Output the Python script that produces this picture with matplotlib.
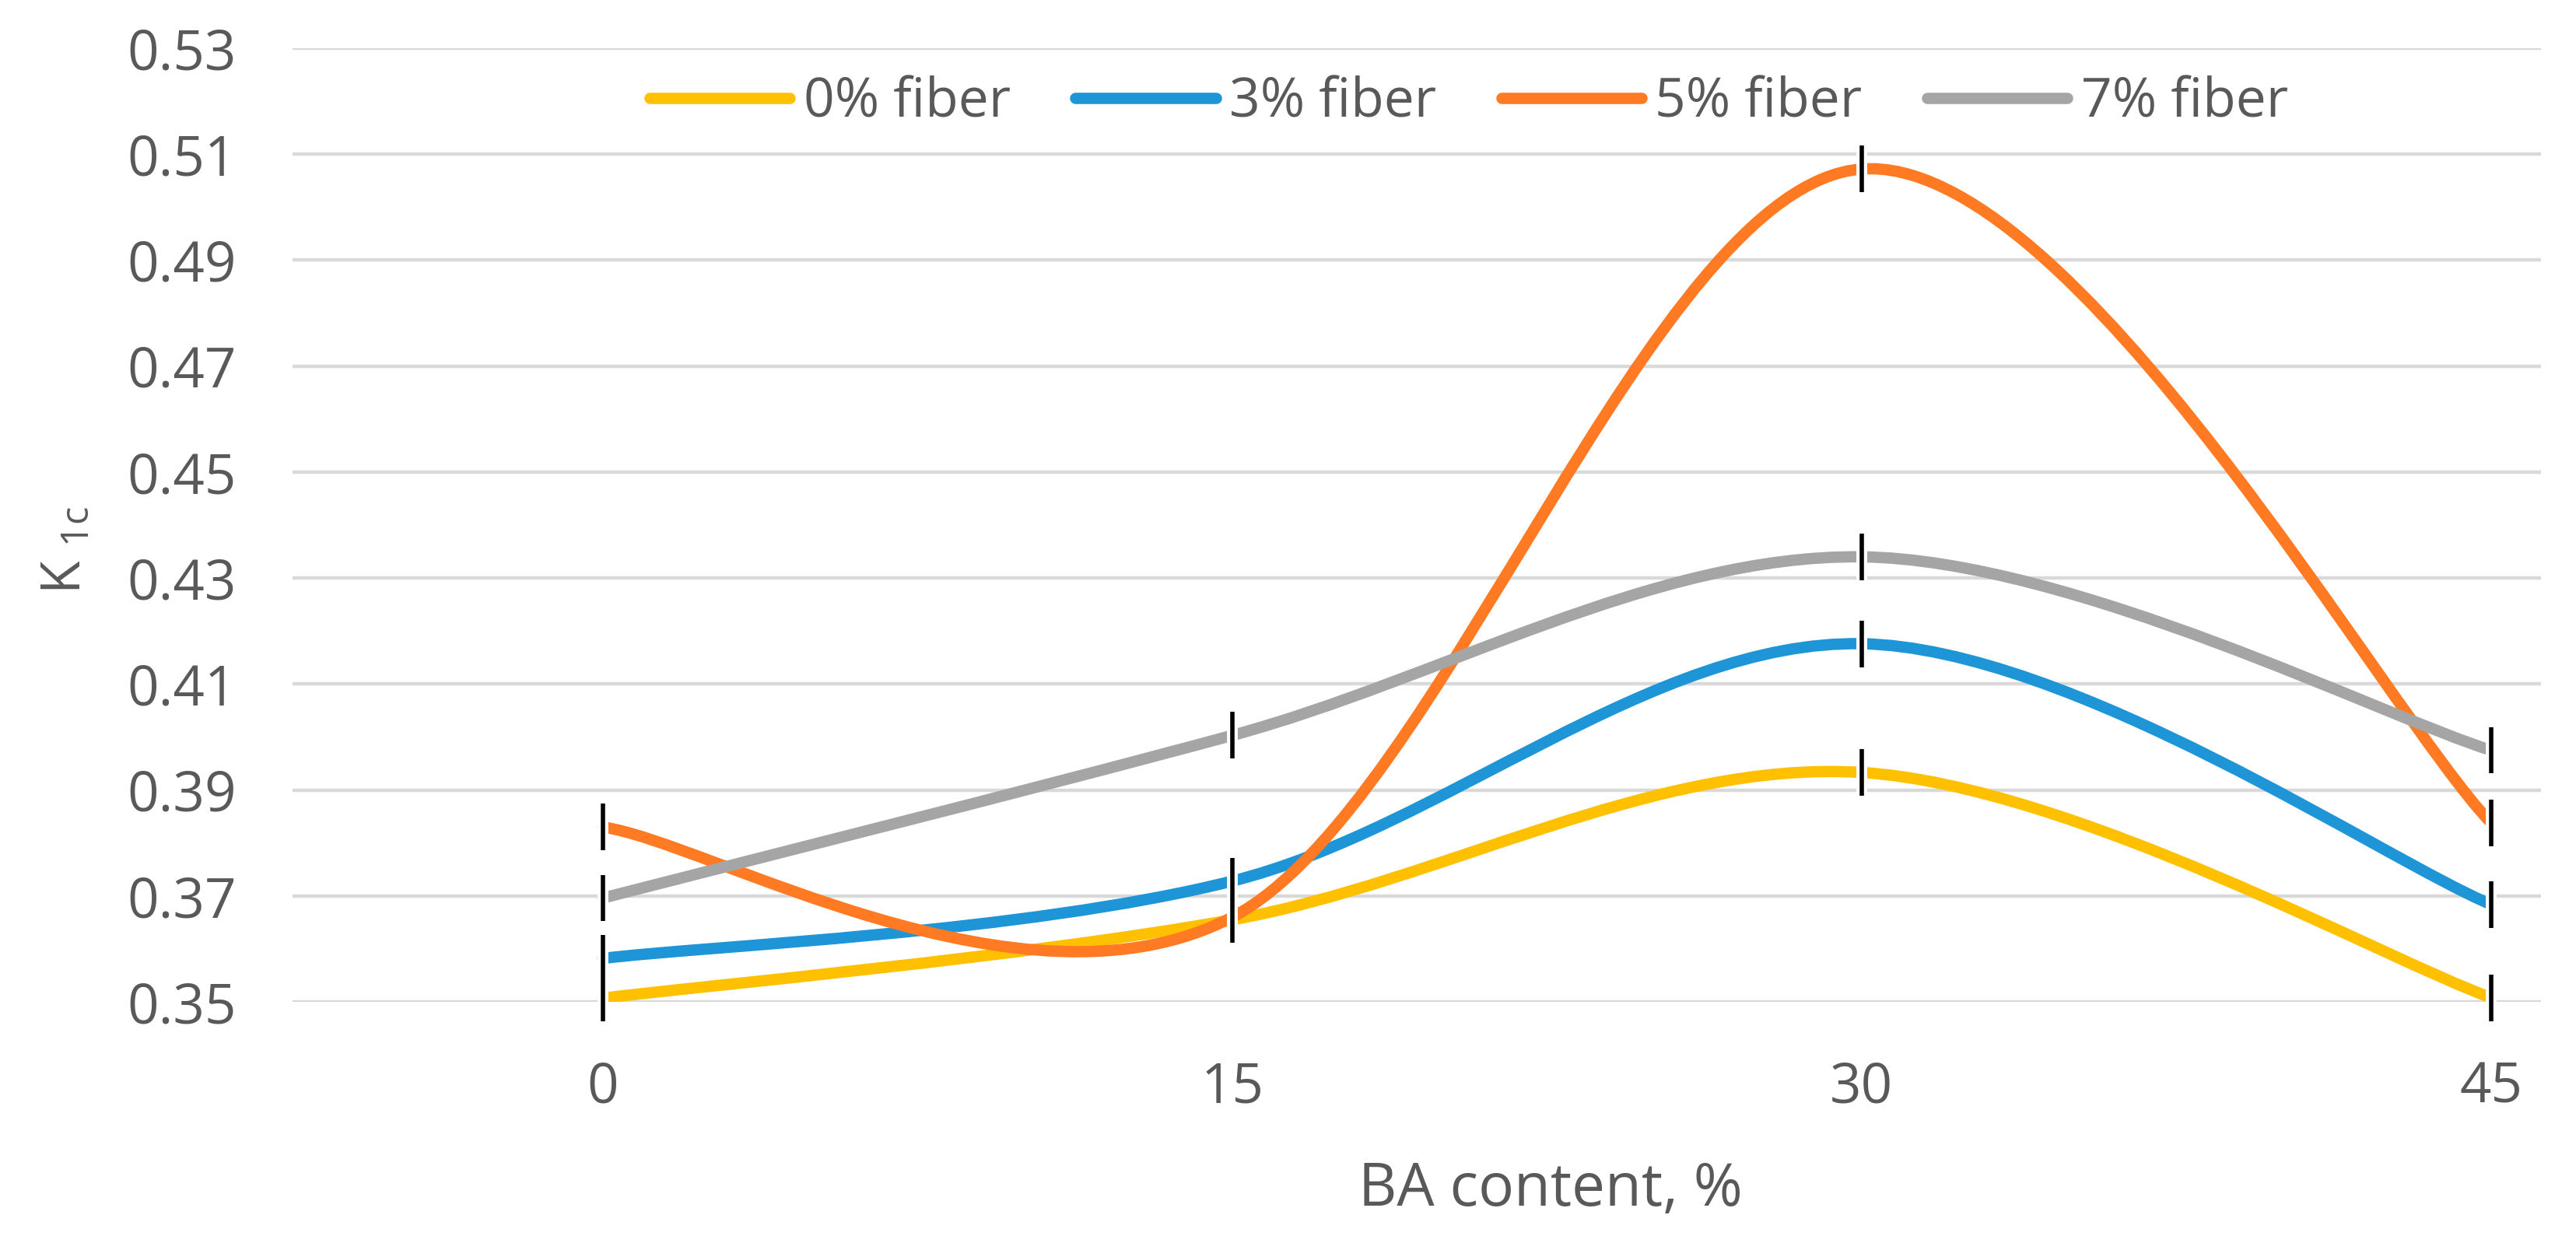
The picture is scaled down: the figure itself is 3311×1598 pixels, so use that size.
import matplotlib
matplotlib.use("Agg")
import matplotlib.pyplot as plt
from matplotlib.path import Path
from matplotlib.patches import PathPatch
from matplotlib.lines import Line2D
import matplotlib.patheffects as pe

plt.rcParams['font.family'] = ['Open Sans', 'DejaVu Sans']
plt.rcParams['mathtext.fontset'] = 'custom'
plt.rcParams['mathtext.rm'] = 'Open Sans'

# donnees
ba_content = [0, 15, 30, 45]
fiber_0 = [0.3507, 0.3655, 0.3933, 0.3508]
fiber_3 = [0.3582, 0.3728, 0.4176, 0.3684]
fiber_5 = [0.3830, 0.3660, 0.5072, 0.3838]
fiber_7 = [0.3696, 0.4003, 0.4340, 0.3975]
err = 0.0044
labels = ["0% fiber", "3% fiber", "5% fiber", "7% fiber"]
colors = ["#FFC000", "#1E95D6", "#FF7A22", "#A5A5A5"]
yticks = [0.35, 0.37, 0.39, 0.41, 0.43, 0.45, 0.47, 0.49, 0.51, 0.53]

txt = "#595959"
lw_serie = 10.5


def smooth_path(xs, ys):
    # courbe lissee facon Excel (Catmull-Rom en Bezier)
    pts = list(zip(xs, ys))
    n = len(pts)
    verts = [pts[0]]
    codes = [Path.MOVETO]
    for i in range(n - 1):
        p0 = pts[i - 1] if i > 0 else pts[i]
        p1 = pts[i]
        p2 = pts[i + 1]
        p3 = pts[i + 2] if i + 2 < n else pts[i + 1]
        c1 = (p1[0] + (p2[0] - p0[0]) / 6, p1[1] + (p2[1] - p0[1]) / 6)
        c2 = (p2[0] - (p3[0] - p1[0]) / 6, p2[1] - (p3[1] - p1[1]) / 6)
        verts += [c1, c2, p2]
        codes += [Path.CURVE4] * 3
    return Path(verts, codes)


fig = plt.figure(figsize=(33.12, 15.98), dpi=100)
ax = fig.add_axes([0.1135, 0.19399, 0.8726, 0.7672])

series = [fiber_0, fiber_3, fiber_5, fiber_7]
for vals, col in zip(series, colors):
    patch = PathPatch(smooth_path(ba_content, vals), facecolor='none', edgecolor=col,
                      lw=lw_serie, capstyle='round', joinstyle='round', zorder=3)
    ax.add_patch(patch)

for vals in series:
    eb = ax.errorbar(ba_content, vals, yerr=err, fmt='none', ecolor='black',
                     elinewidth=4, capsize=0, zorder=4)
    for c in eb[2]:
        c.set_clip_on(False)
        c.set_path_effects([pe.Stroke(linewidth=10, foreground='white'), pe.Normal()])

ax.set_xlim(-7.4, 46.19)
ax.set_ylim(0.35, 0.53)
ax.set_xticks(ba_content)
ax.set_xticklabels([str(v) for v in ba_content])
ax.set_yticks(yticks)
ax.set_yticklabels(["%.2f" % v for v in yticks])
ax.tick_params(axis='both', length=0, labelsize=51, labelcolor=txt)
ax.tick_params(axis='x', pad=54)
ax.tick_params(axis='y', pad=52)
ax.grid(axis='y', color='#D9D9D9', lw=3.2)
ax.set_axisbelow(True)
for s in ax.spines.values():
    s.set_visible(False)

handles = [Line2D([0], [0], color=c, lw=lw_serie, solid_capstyle='round') for c in colors]
fig.legend(handles, labels, loc='center', bbox_to_anchor=(0.570, 0.917), ncol=4,
           frameon=False, fontsize=50, handlelength=2.6, handletextpad=0.25,
           columnspacing=1.2, labelcolor=txt)

fig.text(0.6018, 0.030, "BA content, %", fontsize=55, color=txt, ha='center', va='baseline')
fig.text(0.0257, 0.557, r"K $\mathregular{_{1c}}$", fontsize=50, color=txt,
         rotation=90, ha='center', va='center')

fig.savefig("out.png", dpi=100)
